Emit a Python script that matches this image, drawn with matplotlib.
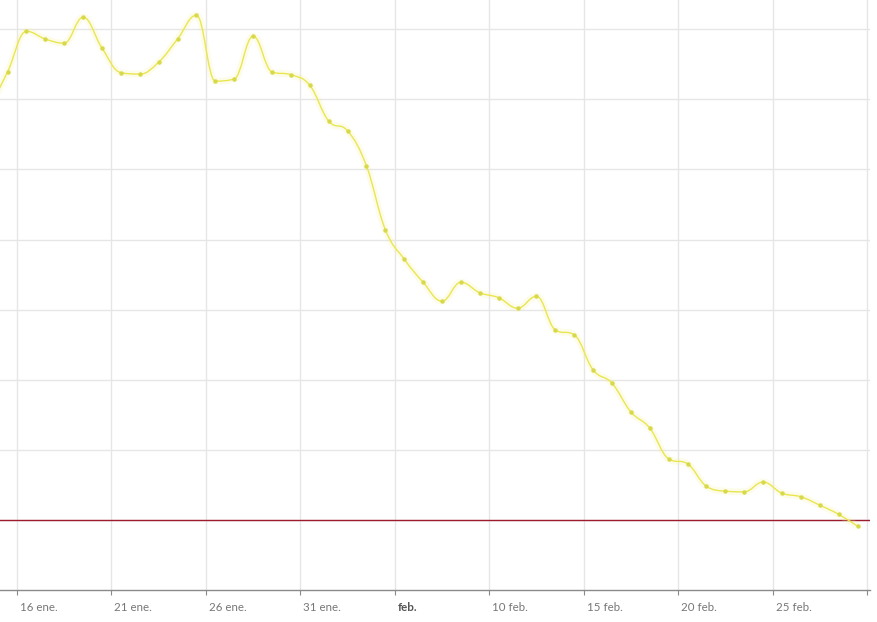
import numpy as np
import pandas as pd
import matplotlib
matplotlib.use("Agg")
import matplotlib.pyplot as plt
from matplotlib.path import Path
from matplotlib.patches import PathPatch
from matplotlib.transforms import ScaledTranslation

# daily values (one point per day, plotted at noon)
start_day = "2021-01-14 12:00"
values = [6.85, 7.39, 7.97, 7.86, 7.80, 8.17, 7.73, 7.38, 7.36, 7.53, 7.86,
          8.20, 7.26, 7.29, 7.90, 7.39, 7.35, 7.20, 6.69, 6.55, 6.05, 5.14,
          4.72, 4.39, 4.12, 4.39, 4.24, 4.17, 4.02, 4.19, 3.71, 3.64, 3.14,
          2.95, 2.54, 2.31, 1.87, 1.80, 1.48, 1.41, 1.40, 1.54, 1.38, 1.33,
          1.21, 1.08, 0.91]
threshold = 1.0

tick_dates = ["2021-01-16", "2021-01-21", "2021-01-26", "2021-01-31",
              "2021-02-05", "2021-02-10", "2021-02-15", "2021-02-20",
              "2021-02-25", "2021-03-02"]
tick_labels = ["16 ene.", "21 ene.", "26 ene.", "31 ene.", "feb.",
               "10 feb.", "15 feb.", "20 feb.", "25 feb.", ""]

origin = pd.Timestamp("2021-01-16")
dates = pd.date_range(start_day, periods=len(values), freq="D")
x = np.array([(d - origin) / pd.Timedelta(days=1) for d in dates])
y = np.array(values, dtype=float)
ticks = [(pd.Timestamp(t) - origin) / pd.Timedelta(days=1) for t in tick_dates]


def spline_path(xs, ys, smoothing=1.5):
    # highcharts style spline: bezier control points, flat at local peaks
    denom = smoothing + 1
    n = len(xs)
    lc = [None] * n
    rc = [None] * n
    for i in range(n):
        px, py = xs[i], ys[i]
        if i == 0 or i == n - 1:
            lc[i] = (px, py)
            rc[i] = (px, py)
            continue
        lx, ly = xs[i - 1], ys[i - 1]
        nx, ny = xs[i + 1], ys[i + 1]
        lcx = (smoothing * px + lx) / denom
        lcy = (smoothing * py + ly) / denom
        rcx = (smoothing * px + nx) / denom
        rcy = (smoothing * py + ny) / denom
        corr = (rcy - lcy) * (rcx - px) / (rcx - lcx) + py - rcy
        lcy += corr
        rcy += corr
        if lcy > ly and lcy > py:
            lcy = max(ly, py)
            rcy = 2 * py - lcy
        elif lcy < ly and lcy < py:
            lcy = min(ly, py)
            rcy = 2 * py - lcy
        if rcy > ny and rcy > py:
            rcy = max(ny, py)
            lcy = 2 * py - rcy
        elif rcy < ny and rcy < py:
            rcy = min(ny, py)
            lcy = 2 * py - rcy
        lc[i] = (lcx, lcy)
        rc[i] = (rcx, rcy)
    verts = [(xs[0], ys[0])]
    codes = [Path.MOVETO]
    for i in range(1, n):
        verts += [rc[i - 1], lc[i], (xs[i], ys[i])]
        codes += [Path.CURVE4] * 3
    return Path(verts, codes)


fig = plt.figure(figsize=(8.78, 6.22), dpi=100)
ax = fig.add_axes([0, 32 / 622, 870 / 878, 590 / 622])

ax.set_xlim(-17 / 18.889, (870 - 17) / 18.889)
ax.set_ylim(0, 590 / 70.1)

# grid
ax.set_yticks(np.arange(1, 9))
ax.set_yticklabels([])
ax.tick_params(axis="y", length=0)
ax.grid(True, color="#e6e6e6", linewidth=1.0)
ax.set_axisbelow(True)

for side in ["top", "left", "right"]:
    ax.spines[side].set_visible(False)
ax.spines["bottom"].set_color("#8a8a8a")
ax.spines["bottom"].set_linewidth(1.0)

ax.set_xticks(ticks)
ax.set_xticklabels(tick_labels)
ax.tick_params(axis="x", direction="out", length=3.5, width=0.8,
               color="#8a8a8a", labelsize=8.3, labelcolor="#777777", pad=5)
for lab in ax.get_xticklabels():
    lab.set_horizontalalignment("left")
    lab.set_fontfamily("Lato")
    lab.set_transform(lab.get_transform() + ScaledTranslation(3 / 100, 0, fig.dpi_scale_trans))
    if lab.get_text() == "feb.":
        lab.set_fontweight("bold")
        lab.set_color("#555555")

# threshold line
ax.axhline(threshold, color="#9c1c2e", linewidth=1.0, zorder=3)

# smoothed line with a soft glow
path = spline_path(x, y)
ax.add_patch(PathPatch(path, facecolor="none", edgecolor="#f6f39a",
                       linewidth=5, alpha=0.2, zorder=4))
ax.add_patch(PathPatch(path, facecolor="none", edgecolor="#e9e650",
                       linewidth=1.0, zorder=5))
ax.plot(x, y, linestyle="none", marker="o", markersize=3.2,
        color="#d8d94a", markeredgewidth=0, zorder=6, clip_on=True)

fig.savefig("out.png", dpi=100)
